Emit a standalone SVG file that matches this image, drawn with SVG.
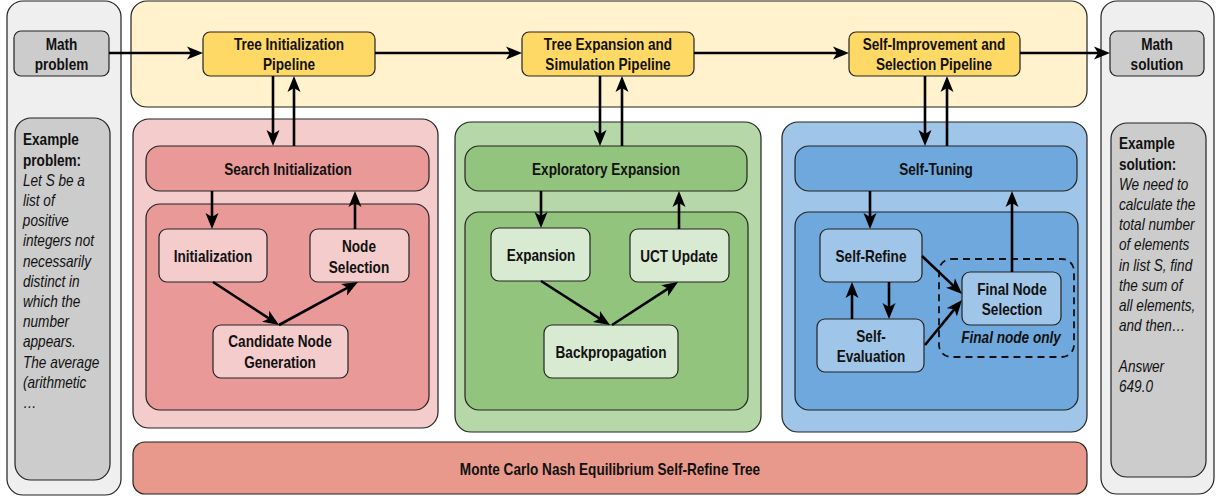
<svg xmlns="http://www.w3.org/2000/svg" width="1216" height="497" viewBox="0 0 1216 497">
<style>
text{font-family:"Liberation Sans",Arial,sans-serif;fill:#111;transform-box:fill-box;}
.b{font-weight:bold;font-size:16px;text-anchor:middle;transform-origin:center;transform:scale(0.85,1);}
.bl{font-weight:bold;font-size:16px;transform-origin:left center;transform:scale(0.85,1);}
.it{font-style:italic;font-size:16px;transform-origin:left center;transform:scale(0.85,1);}
.box{stroke:#222;stroke-width:1.2;}
.arr{stroke:#000;stroke-width:2.6;fill:none;marker-end:url(#ah);}
</style>
<defs>
<marker id="ah" viewBox="0 0 16 14" markerWidth="16" markerHeight="14" refX="10" refY="7" orient="auto" markerUnits="userSpaceOnUse">
<path d="M0,0.5 L16,7 L0,13.5 L4,7 Z" fill="#000"/>
</marker>
</defs>

<g id="left-panel">
<rect class="box" x="7" y="1" width="114" height="494" rx="16" fill="#efefef"/>
</g>
<g id="math-problem">
<rect class="box" x="14" y="31" width="95" height="45" rx="7" fill="#cccccc"/>
<text class="b" x="61.5" y="50">Math</text>
<text class="b" x="61.5" y="70">problem</text>
</g>
<g id="example-problem">
<rect class="box" x="15" y="118" width="95" height="362" rx="16" fill="#cccccc"/>
<text class="bl" x="23" y="145">Example</text>
<text class="bl" x="23" y="166">problem:</text>
<text class="it" x="23" y="186">Let S be a</text>
<text class="it" x="23" y="206">list of</text>
<text class="it" x="23" y="226">positive</text>
<text class="it" x="23" y="246">integers not</text>
<text class="it" x="23" y="267">necessarily</text>
<text class="it" x="23" y="287">distinct in</text>
<text class="it" x="23" y="307">which the</text>
<text class="it" x="23" y="327">number</text>
<text class="it" x="23" y="347">appears.</text>
<text class="it" x="23" y="368">The average</text>
<text class="it" x="23" y="388">(arithmetic</text>
<text class="it" x="23" y="408">…</text>
</g>

<g id="right-panel">
<rect class="box" x="1101" y="1" width="113" height="493" rx="16" fill="#efefef"/>
</g>
<g id="math-solution">
<rect class="box" x="1110" y="31" width="94" height="45" rx="7" fill="#cccccc"/>
<text class="b" x="1157" y="50">Math</text>
<text class="b" x="1157" y="70">solution</text>
</g>
<g id="example-solution">
<rect class="box" x="1111" y="123" width="95" height="354" rx="16" fill="#cccccc"/>
<text class="bl" x="1119" y="149">Example</text>
<text class="bl" x="1119" y="170">solution:</text>
<text class="it" x="1119" y="190">We need to</text>
<text class="it" x="1119" y="210">calculate the</text>
<text class="it" x="1119" y="230">total number</text>
<text class="it" x="1119" y="250">of elements</text>
<text class="it" x="1119" y="271">in list S, find</text>
<text class="it" x="1119" y="291">the sum of</text>
<text class="it" x="1119" y="311">all elements,</text>
<text class="it" x="1119" y="331">and then…</text>
<text class="it" x="1119" y="372">Answer</text>
<text class="it" x="1119" y="392">649.0</text>
</g>

<g id="pipeline-band">
<rect class="box" x="131" y="1" width="956" height="106" rx="16" fill="#fff2cc"/>
</g>
<g id="tree-init-pipeline">
<rect class="box" x="203" y="32" width="172" height="44" rx="7" fill="#ffd966"/>
<text class="b" x="289" y="50">Tree Initialization</text>
<text class="b" x="289" y="70">Pipeline</text>
</g>
<g id="tree-exp-pipeline">
<rect class="box" x="522" y="32" width="172" height="44" rx="7" fill="#ffd966"/>
<text class="b" x="608" y="50">Tree Expansion and</text>
<text class="b" x="608" y="70">Simulation Pipeline</text>
</g>
<g id="self-imp-pipeline">
<rect class="box" x="849" y="32" width="171" height="44" rx="7" fill="#ffd966"/>
<text class="b" x="934" y="50">Self-Improvement and</text>
<text class="b" x="934" y="70">Selection Pipeline</text>
</g>

<g id="red-panel">
<rect class="box" x="133" y="119" width="305" height="309" rx="16" fill="#f4cccc"/>
<rect class="box" x="146" y="204" width="283" height="206" rx="14" fill="#ea9999"/>
</g>
<g id="search-init">
<rect class="box" x="146" y="146" width="283" height="45" rx="14" fill="#ea9999"/>
<text class="b" x="288" y="175">Search Initialization</text>
</g>
<g id="initialization">
<rect class="box" x="159" y="229" width="108" height="53" rx="8" fill="#f4cccc"/>
<text class="b" x="213" y="262">Initialization</text>
</g>
<g id="node-selection">
<rect class="box" x="310" y="229" width="99" height="53" rx="8" fill="#f4cccc"/>
<text class="b" x="359" y="252">Node</text>
<text class="b" x="359" y="273">Selection</text>
</g>
<g id="candidate-gen">
<rect class="box" x="213" y="325" width="135" height="53" rx="8" fill="#f4cccc"/>
<text class="b" x="280" y="347">Candidate Node</text>
<text class="b" x="280" y="368">Generation</text>
</g>

<g id="green-panel">
<rect class="box" x="455" y="122" width="306" height="310" rx="16" fill="#b6d7a8"/>
<rect class="box" x="465" y="212" width="283" height="198" rx="14" fill="#93c47d"/>
</g>
<g id="exploratory-expansion">
<rect class="box" x="465" y="146" width="282" height="45" rx="14" fill="#93c47d"/>
<text class="b" x="606" y="175">Exploratory Expansion</text>
</g>
<g id="expansion">
<rect class="box" x="491" y="228" width="99" height="53" rx="8" fill="#d9ead3"/>
<text class="b" x="541" y="261">Expansion</text>
</g>
<g id="uct-update">
<rect class="box" x="630" y="229" width="99" height="53" rx="8" fill="#d9ead3"/>
<text class="b" x="679" y="262">UCT Update</text>
</g>
<g id="backpropagation">
<rect class="box" x="544" y="325" width="134" height="53" rx="8" fill="#d9ead3"/>
<text class="b" x="611" y="358">Backpropagation</text>
</g>

<g id="blue-panel">
<rect class="box" x="782" y="122" width="305" height="310" rx="16" fill="#9fc5e8"/>
<rect class="box" x="795" y="212" width="283" height="198" rx="14" fill="#6fa8dc"/>
</g>
<g id="self-tuning">
<rect class="box" x="795" y="146" width="282" height="45" rx="14" fill="#6fa8dc"/>
<text class="b" x="936" y="175">Self-Tuning</text>
</g>
<g id="self-refine">
<rect class="box" x="820" y="229" width="102" height="53" rx="8" fill="#9fc5e8"/>
<text class="b" x="871" y="262">Self-Refine</text>
</g>
<g id="self-evaluation">
<rect class="box" x="817" y="319" width="107" height="53" rx="8" fill="#9fc5e8"/>
<text class="b" x="871" y="342">Self-</text>
<text class="b" x="871" y="362">Evaluation</text>
</g>
<g id="final-only-group">
<rect x="939" y="259" width="135" height="98" rx="12" fill="none" stroke="#111" stroke-width="1.8" stroke-dasharray="7 5"/>
<text class="b" x="1011" y="343" font-style="italic">Final node only</text>
</g>
<g id="final-node-selection">
<rect class="box" x="962" y="272" width="99" height="53" rx="8" fill="#9fc5e8"/>
<text class="b" x="1012" y="295">Final Node</text>
<text class="b" x="1012" y="315">Selection</text>
</g>

<g id="bottom-bar">
<rect class="box" x="133" y="442" width="954" height="52" rx="12" fill="#e8998b"/>
<text class="b" x="610" y="475">Monte Carlo Nash Equilibrium Self-Refine Tree</text>
</g>

<g id="connectors">
<path class="arr" d="M109,53 H197"/>
<path class="arr" d="M375,53 H516"/>
<path class="arr" d="M694,53 H843"/>
<path class="arr" d="M1020,53 H1104"/>
<path class="arr" d="M273,76 V140"/>
<path class="arr" d="M294,146 V82"/>
<path class="arr" d="M600,76 V140"/>
<path class="arr" d="M622,146 V82"/>
<path class="arr" d="M925,76 V140"/>
<path class="arr" d="M947,146 V82"/>
<path class="arr" d="M212,191 V223"/>
<path class="arr" d="M355,229 V197"/>
<path class="arr" d="M213,282 L274,321.7"/>
<path class="arr" d="M279,325 L352.7,284.9"/>
<path class="arr" d="M541,191 V222"/>
<path class="arr" d="M679,229 V197"/>
<path class="arr" d="M541,281 L604.9,321.8"/>
<path class="arr" d="M612,325 L673,285.3"/>
<path class="arr" d="M870,191 V223"/>
<path class="arr" d="M1012,272 V197"/>
<path class="arr" d="M852,319 V288"/>
<path class="arr" d="M889,282 V313"/>
<path class="arr" d="M922,256 L957.7,289.9"/>
<path class="arr" d="M925,345 L958.2,304.6"/>
</g>
</svg>
